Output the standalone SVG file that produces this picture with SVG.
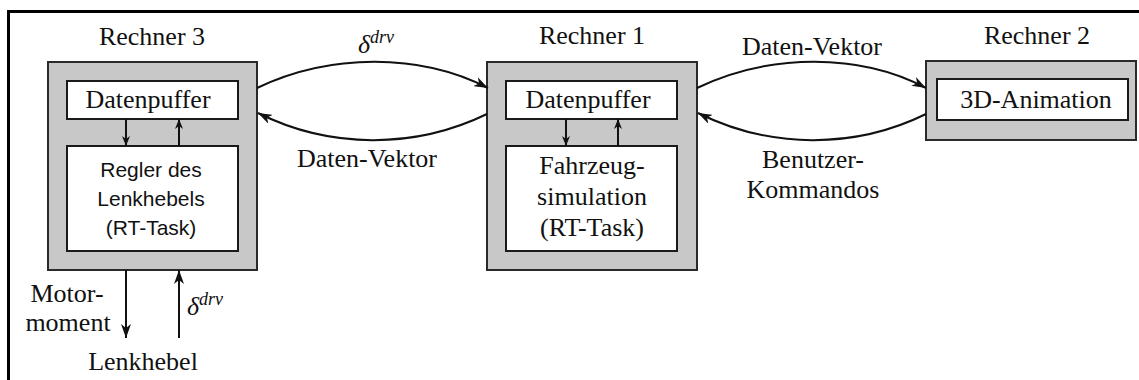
<svg xmlns="http://www.w3.org/2000/svg" width="1139" height="380" viewBox="0 0 1139 380">
<defs>
<style>
.outer{fill:#c8c8c8;stroke:#2a2a2a;stroke-width:2}
.inner{fill:#fff;stroke:#1a1a1a;stroke-width:2}
.serif{font-family:"Liberation Serif","Times New Roman",serif;font-size:26px;fill:#111}
.sans{font-family:"Liberation Sans",Arial,sans-serif;font-size:21px;fill:#111}
.math{font-family:"Liberation Serif","Times New Roman",serif;font-style:italic;fill:#111}
.conn{fill:none;stroke:#111;stroke-width:2}
.big{marker-end:url(#ahBig)}
.small{marker-end:url(#ahSmall)}
</style>
<marker id="ahBig" viewBox="0 0 14 10" refX="14" refY="5" markerWidth="14" markerHeight="10" markerUnits="userSpaceOnUse" orient="auto">
<path d="M0,0 L14,5 L0,10 L4,5 z" fill="#111"/>
</marker>
<marker id="ahSmall" viewBox="0 0 10 8" refX="10" refY="4" markerWidth="10" markerHeight="8" markerUnits="userSpaceOnUse" orient="auto">
<path d="M0,0 L10,4 L0,8 L3,4 z" fill="#111"/>
</marker>
</defs>
<rect width="1139" height="380" fill="#fff"/>
<path d="M8.5,380 L8.5,11.5 L1139,11.5" fill="none" stroke="#000" stroke-width="3"/>

<g id="rechner3">
<text class="serif" x="152" y="45" text-anchor="middle">Rechner 3</text>
<rect class="outer" x="48" y="62" width="209" height="208"/>
<rect class="inner" x="67" y="81" width="171" height="38"/>
<text class="serif" x="148" y="108" text-anchor="middle">Datenpuffer</text>
<rect class="inner" x="67" y="146" width="171" height="105"/>
<text class="sans" x="151" y="177" text-anchor="middle">Regler des</text>
<text class="sans" x="151" y="206" text-anchor="middle">Lenkhebels</text>
<text class="sans" x="151" y="235" text-anchor="middle">(RT-Task)</text>
</g>

<g id="rechner1">
<text class="serif" x="592" y="44" text-anchor="middle">Rechner 1</text>
<rect class="outer" x="487" y="62" width="210" height="208"/>
<rect class="inner" x="506" y="81" width="171" height="38"/>
<text class="serif" x="588" y="108" text-anchor="middle">Datenpuffer</text>
<rect class="inner" x="506" y="146" width="171" height="105"/>
<text class="serif" x="592" y="174" text-anchor="middle">Fahrzeug-</text>
<text class="serif" x="592" y="205" text-anchor="middle">simulation</text>
<text class="serif" x="592" y="236" text-anchor="middle">(RT-Task)</text>
</g>

<g id="rechner2">
<text class="serif" x="1037" y="44" text-anchor="middle">Rechner 2</text>
<rect class="outer" x="926" y="61" width="210" height="79"/>
<rect class="inner" x="937" y="79" width="191" height="41"/>
<text class="serif" x="1036" y="108" text-anchor="middle">3D-Animation</text>
</g>

<g id="lenkhebel">
<text class="serif" x="143" y="370" text-anchor="middle">Lenkhebel</text>
</g>

<g id="connectors">
<path class="conn small" d="M126,119 L126,146"/>
<path class="conn small" d="M179,146 L179,119"/>
<path class="conn small" d="M566,119 L566,146"/>
<path class="conn small" d="M618,146 L618,119"/>
<path class="conn big" d="M126,270 L126,338"/>
<path class="conn big" d="M179,338 L179,270"/>
<path class="conn big" d="M257,88 C330,53 420,53 488,88"/>
<path class="conn big" d="M487,114 C415,149 330,149 258,113"/>
<path class="conn big" d="M697,88 C770,53 860,53 926,88"/>
<path class="conn big" d="M926,114 C855,149 770,149 698,113"/>
</g>

<g id="labels">
<text class="math" x="358" y="53" font-size="26">δ<tspan font-size="18" dy="-10">drv</tspan></text>
<text class="serif" x="367" y="167" text-anchor="middle">Daten-Vektor</text>
<text class="serif" x="812" y="55" text-anchor="middle">Daten-Vektor</text>
<text class="serif" x="813" y="168" text-anchor="middle">Benutzer-</text>
<text class="serif" x="813" y="198" text-anchor="middle">Kommandos</text>
<text class="serif" x="67" y="302" text-anchor="middle" font-size="24">Motor-</text>
<text class="serif" x="68" y="331" text-anchor="middle" font-size="24">moment</text>
<text class="math" x="187" y="315" font-size="26">δ<tspan font-size="18" dy="-10">drv</tspan></text>
</g>
</svg>
